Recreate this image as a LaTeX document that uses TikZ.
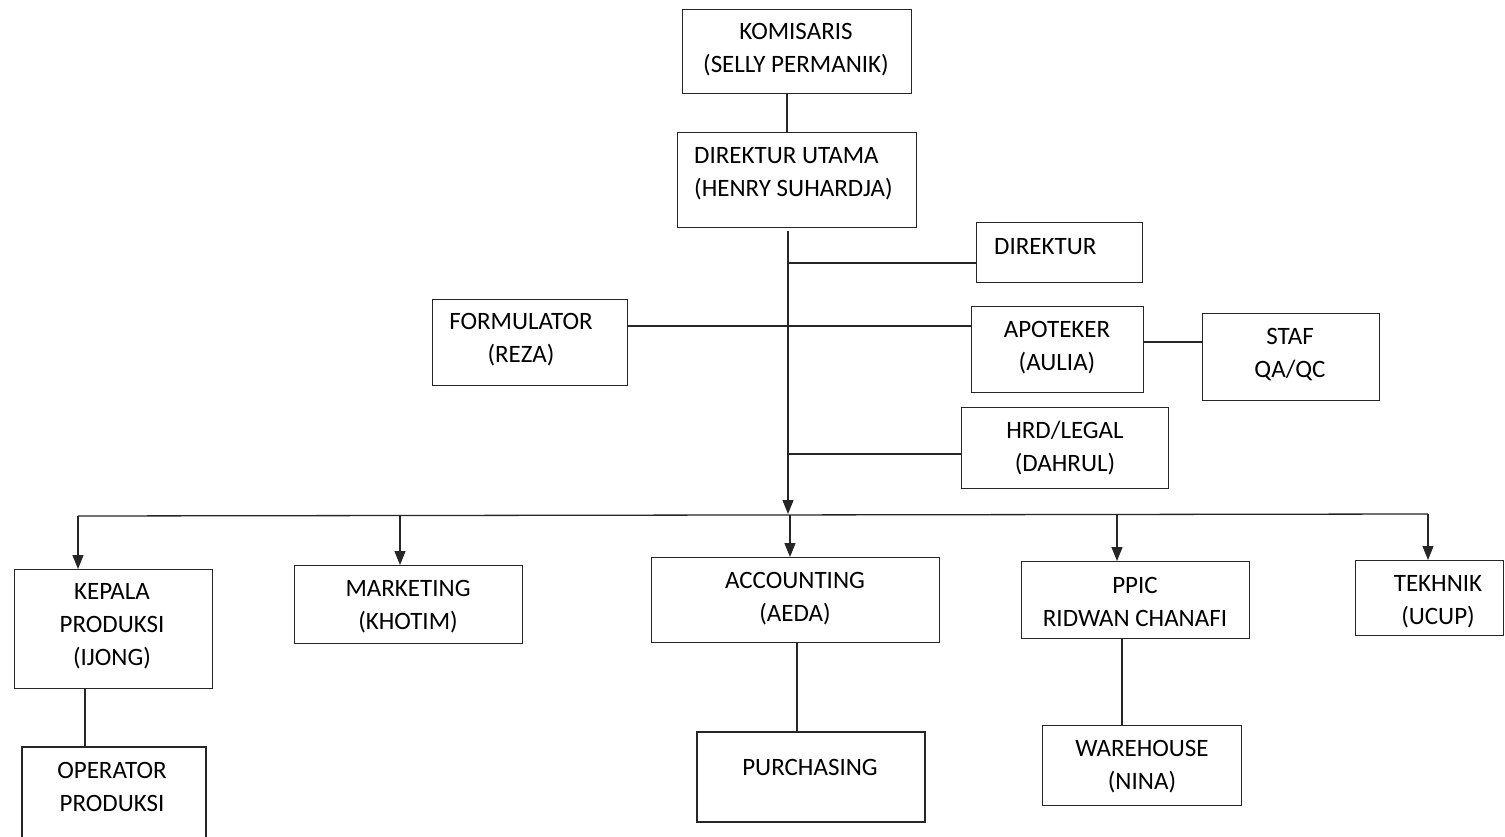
\documentclass[tikz,border=0pt]{standalone}
\usepackage{fontspec}
\setmainfont{Carlito}
\usetikzlibrary{arrows.meta}
\begin{document}
\begin{tikzpicture}[x=1pt,y=-1pt,
  box/.style={draw=black!85, line width=1.4pt, rectangle, inner sep=0pt, anchor=north west},
  thickbox/.style={box, line width=2.4pt},
  txt/.style={font=\fontsize{25}{33}\selectfont, align=center, inner sep=0pt, text=black},
  conn/.style={line width=1.3pt, draw=black!85},
  arr/.style={conn, -{Triangle[length=14pt,width=11pt]}}]
\clip (0,0) rectangle (1505,837);
\fill[white] (0,0) rectangle (1505,837);

% boxes
\node[box, minimum width=229pt, minimum height=84pt] (kom) at (682,9) {};
\node[box, minimum width=239pt, minimum height=95pt] (du) at (677,132) {};
\node[box, minimum width=166pt, minimum height=60pt] (dir) at (976,222) {};
\node[box, minimum width=195pt, minimum height=86pt] (form) at (432,299) {};
\node[box, minimum width=172pt, minimum height=86pt] (apo) at (971,306) {};
\node[box, minimum width=177pt, minimum height=87pt] (staf) at (1202,313) {};
\node[box, minimum width=207pt, minimum height=81pt] (hrd) at (961,407) {};
\node[box, minimum width=198pt, minimum height=119pt] (kep) at (14,569) {};
\node[box, minimum width=228pt, minimum height=78pt] (mkt) at (294,565) {};
\node[box, minimum width=288pt, minimum height=85pt] (acc) at (651,557) {};
\node[box, minimum width=228pt, minimum height=77pt] (ppic) at (1021,561) {};
\node[box, minimum width=148pt, minimum height=75pt] (tek) at (1355,560) {};
\node[thickbox, minimum width=184pt, minimum height=110pt] (op) at (21,746) {};
\node[thickbox, minimum width=228pt, minimum height=90pt] (pur) at (696,731) {};
\node[box, minimum width=199pt, minimum height=80pt] (wh) at (1042,725) {};

% texts
\node[txt] (komT) at (796,49.5) {KOMISARIS\\(SELLY PERMANIK)};
\node[txt, anchor=west, align=left] (duT) at (694,174) {DIREKTUR UTAMA\\(HENRY SUHARDJA)};
\node[txt, anchor=west] (dirT) at (994,247) {DIREKTUR};
\node[txt] (formT) at (521,340) {FORMULATOR\\(REZA)};
\node[txt] (apoT) at (1057,347.5) {APOTEKER\\(AULIA)};
\node[txt] (stafT) at (1290,354.5) {STAF\\QA/QC};
\node[txt] (hrdT) at (1065,448) {HRD/LEGAL\\(DAHRUL)};
\node[txt] (kepT) at (112,626) {KEPALA\\PRODUKSI\\(IJONG)};
\node[txt] (mktT) at (408,606.5) {MARKETING\\(KHOTIM)};
\node[txt] (accT) at (795,598.5) {ACCOUNTING\\(AEDA)};
\node[txt] (ppicT) at (1135,602) {PPIC\\RIDWAN CHANAFI};
\node[txt] (tekT) at (1438,602) {TEKHNIK\\(UCUP)};
\node[txt] (opT) at (112,787) {OPERATOR\\PRODUKSI};
\node[txt] (purT) at (810,767) {PURCHASING};
\node[txt] (whT) at (1142,766.5) {WAREHOUSE\\(NINA)};

% helper coordinates
\coordinate (c1) at (787,0);
\coordinate (trunkTop) at (788,231);
\coordinate (trunkBot) at (788,514);
\coordinate (j1) at (788,263);
\coordinate (f1) at (627,326);
\coordinate (s1) at (1143,342);
\coordinate (j2) at (788,454);
\coordinate (busL) at (78,516);
\coordinate (busR) at (1428,514);
\coordinate (bM) at (400,516);
\coordinate (bA) at (790,515);
\coordinate (bP) at (1117,514);
\coordinate (k1) at (85,0);
\coordinate (a1) at (797,0);
\coordinate (p1) at (1122,0);

% connectors
\draw[conn] (c1 |- kom.south) -- (c1 |- du.north);
\draw[arr] (trunkTop) -- (trunkBot);
\draw[conn] (j1) -- (j1 -| dir.west);
\draw[conn] (f1) -- (f1 -| apo.west);
\draw[conn] (s1) -- (s1 -| staf.west);
\draw[conn] (j2) -- (j2 -| hrd.west);
\draw[conn] (busL) -- (busR);
\draw[arr] (busL) -- (busL |- kep.north);
\draw[arr] (bM) -- (bM |- mkt.north);
\draw[arr] (bA) -- (bA |- acc.north);
\draw[arr] (bP) -- (bP |- ppic.north);
\draw[arr] (busR) -- (busR |- tek.north);
\draw[conn] (k1 |- kep.south) -- (k1 |- op.north);
\draw[conn] (a1 |- acc.south) -- (a1 |- pur.north);
\draw[conn] (p1 |- ppic.south) -- (p1 |- wh.north);
\end{tikzpicture}
\end{document}
